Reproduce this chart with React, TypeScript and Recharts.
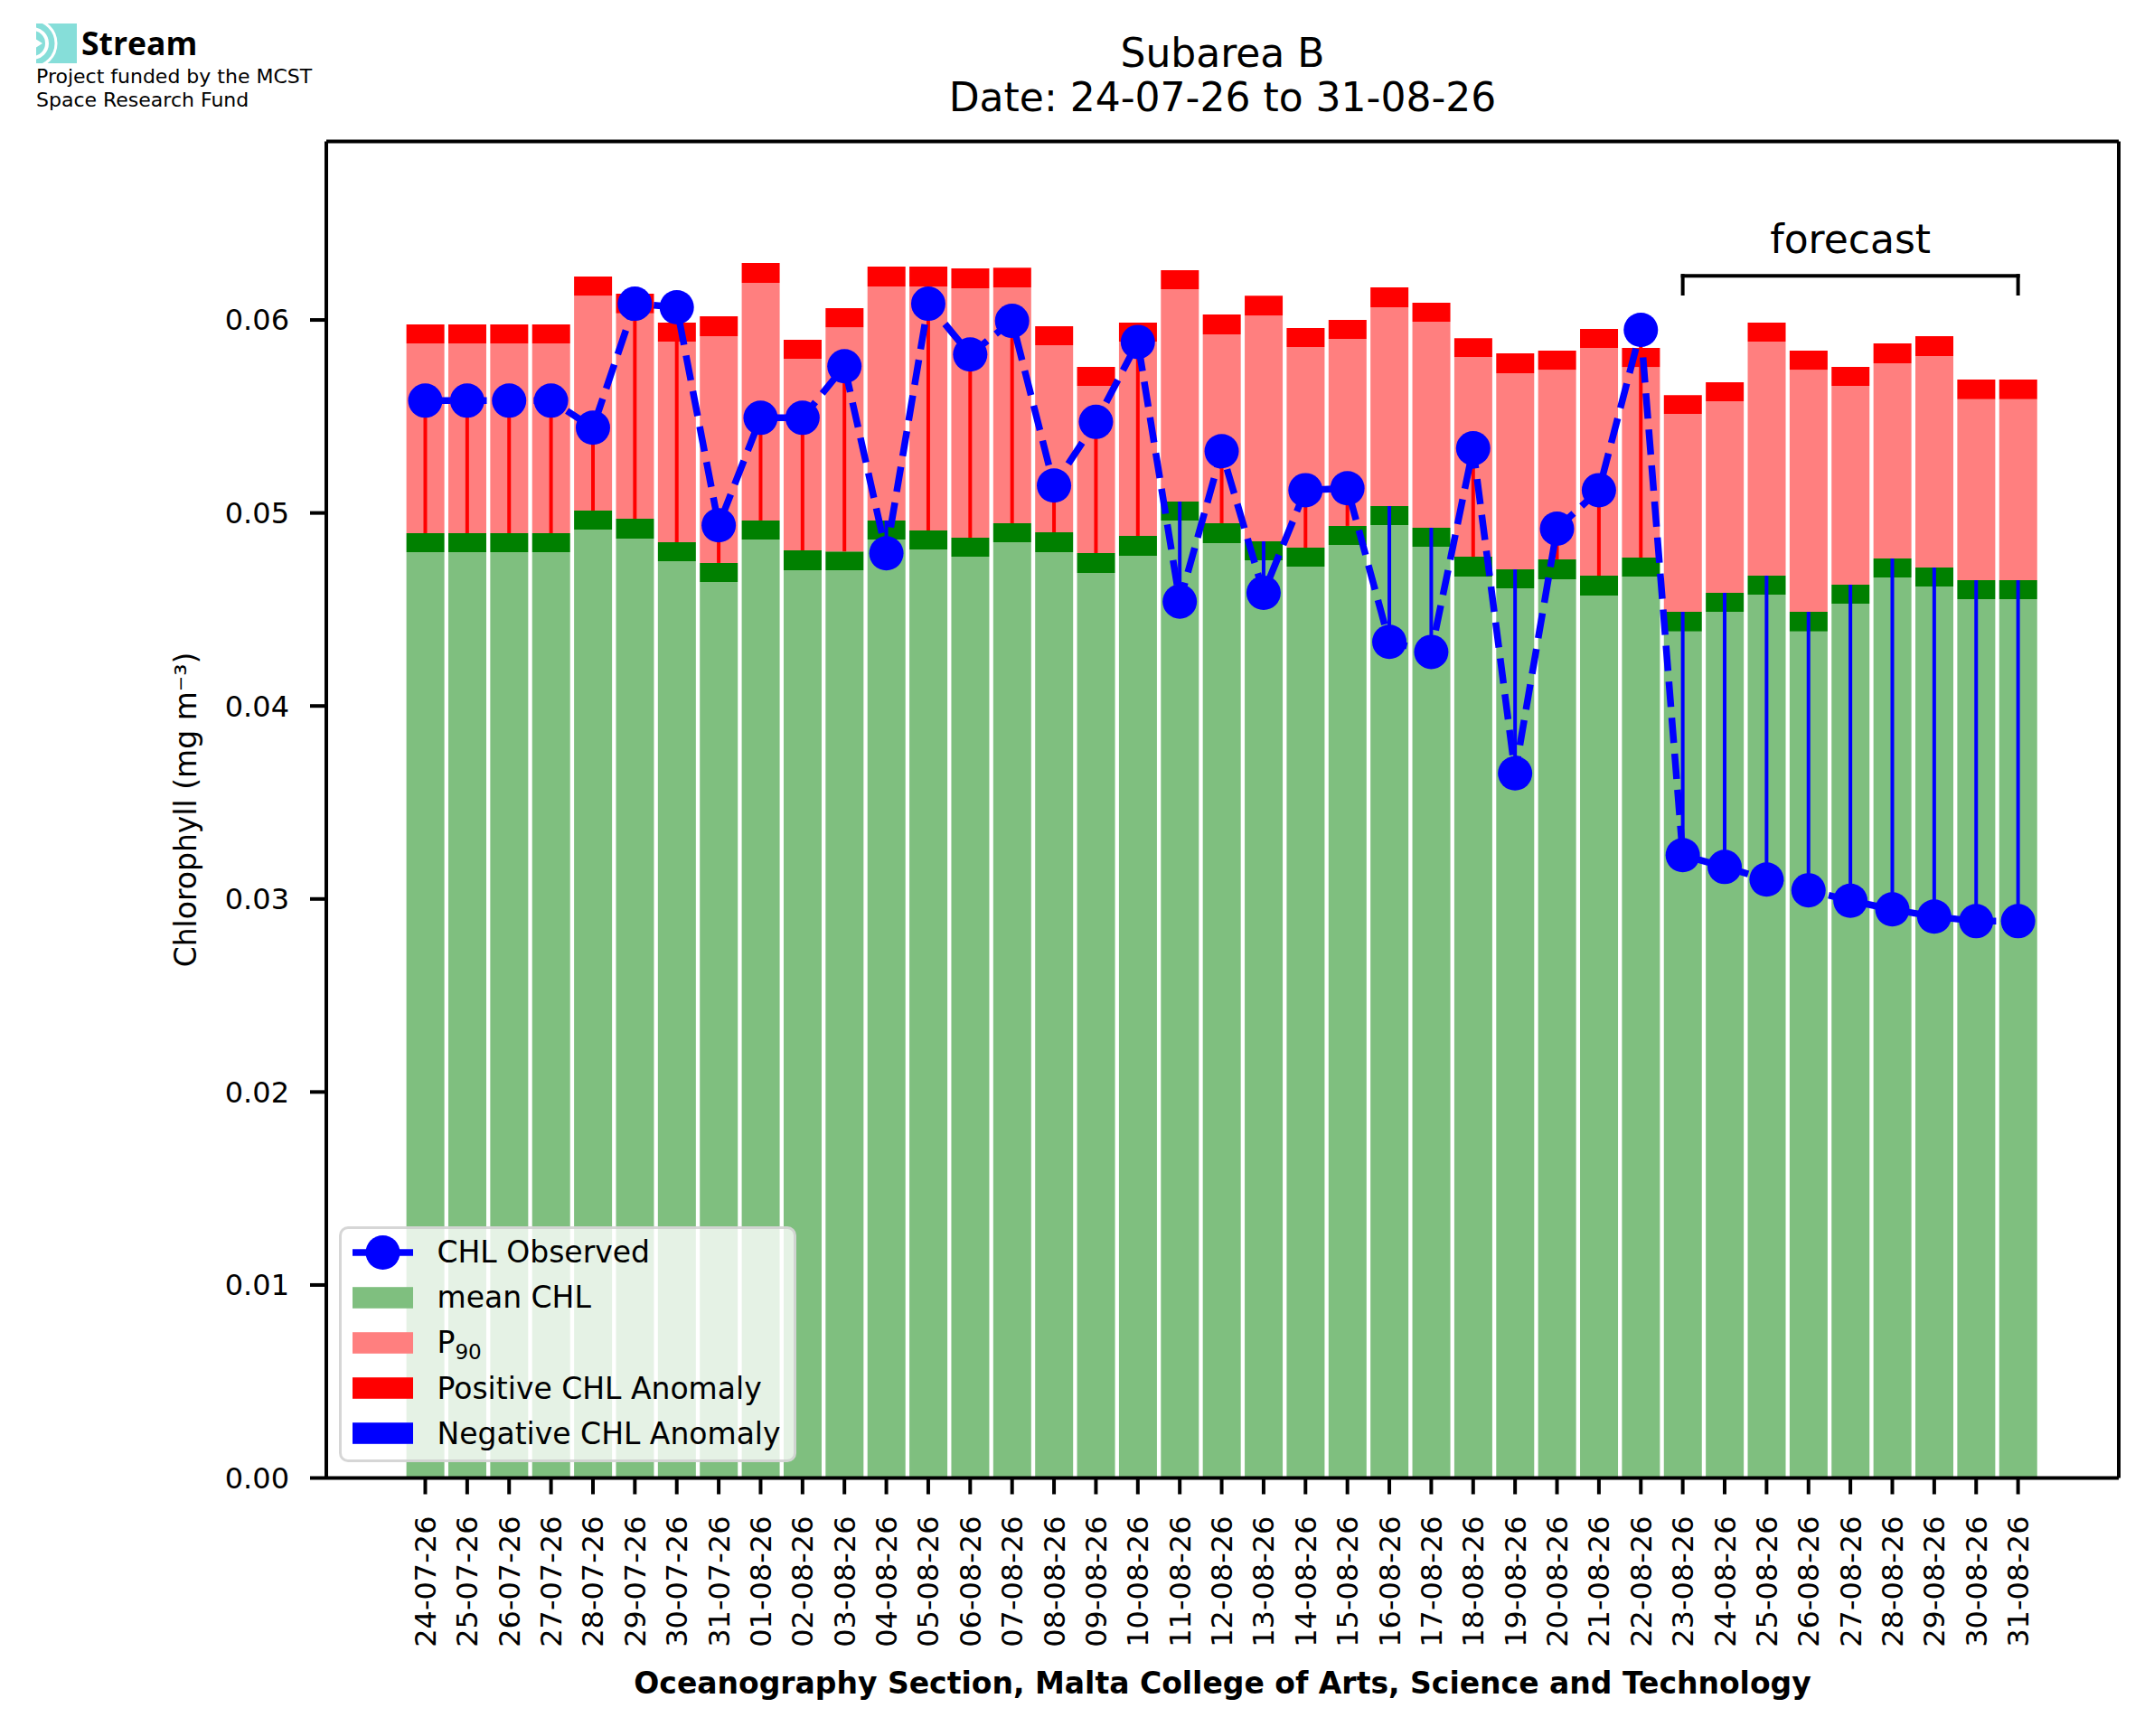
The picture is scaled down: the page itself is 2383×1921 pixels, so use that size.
import React from 'react';
import {
  ComposedChart,
  Bar,
  Line,
  XAxis,
  YAxis,
  ErrorBar,
  ReferenceLine,
  Legend,
  CartesianGrid,
} from 'recharts';

const FONT = '"DejaVu Sans", sans-serif';

// ---------- data ----------
const DATES = [
  '24-07-26', '25-07-26', '26-07-26', '27-07-26', '28-07-26', '29-07-26', '30-07-26', '31-07-26',
  '01-08-26', '02-08-26', '03-08-26', '04-08-26', '05-08-26', '06-08-26', '07-08-26', '08-08-26',
  '09-08-26', '10-08-26', '11-08-26', '12-08-26', '13-08-26', '14-08-26', '15-08-26', '16-08-26',
  '17-08-26', '18-08-26', '19-08-26', '20-08-26', '21-08-26', '22-08-26', '23-08-26', '24-08-26',
  '25-08-26', '26-08-26', '27-08-26', '28-08-26', '29-08-26', '30-08-26', '31-08-26',
];

// top of the light-green "mean CHL" bar
const MEAN_CHL = [
  0.04797, 0.04797, 0.04797, 0.04797, 0.04914, 0.04867, 0.0475, 0.04642,
  0.04862, 0.04703, 0.04703, 0.04862, 0.04811, 0.04773, 0.04848, 0.04797,
  0.04689, 0.04778, 0.04961, 0.04844, 0.04755, 0.04722, 0.04834, 0.04937,
  0.04825, 0.0467, 0.0461, 0.04656, 0.04572, 0.0467, 0.04386, 0.04488,
  0.04577, 0.04386, 0.0453, 0.04666, 0.04619, 0.04553, 0.04553,
];

// top of the dark-green mean marker band
const MEAN_TOP = [
  0.04895, 0.04895, 0.04895, 0.04895, 0.05012, 0.0497, 0.04848, 0.04741,
  0.04961, 0.04806, 0.04801, 0.04961, 0.04909, 0.04872, 0.04947, 0.049,
  0.04792, 0.04881, 0.05059, 0.04947, 0.04853, 0.0482, 0.04933, 0.05036,
  0.04923, 0.04773, 0.04708, 0.04759, 0.04675, 0.04769, 0.04488, 0.04586,
  0.04675, 0.04488, 0.04628, 0.04764, 0.04717, 0.04652, 0.04652,
];

// top of the light-red P90 bar
const P90 = [
  0.05878, 0.05878, 0.05878, 0.05878, 0.06126, 0.06034, 0.05888, 0.05916,
  0.06192, 0.05799, 0.05962, 0.06173, 0.06173, 0.06164, 0.06169, 0.05869,
  0.05658, 0.05888, 0.06159, 0.05925, 0.06023, 0.0586, 0.05902, 0.06066,
  0.05991, 0.05808, 0.05724, 0.05742, 0.05855, 0.05756, 0.05513, 0.05579,
  0.05888, 0.05742, 0.05658, 0.05775, 0.05813, 0.05589, 0.05589,
];

// top of the red P90 marker band
const P90_TOP = [
  0.05977, 0.05977, 0.05977, 0.05977, 0.06225, 0.06136, 0.05986, 0.06019,
  0.06295, 0.05897, 0.06061, 0.06276, 0.06276, 0.06267, 0.06271, 0.05967,
  0.05757, 0.05986, 0.06258, 0.06028, 0.06126, 0.05958, 0.06, 0.06169,
  0.06089, 0.05906, 0.05827, 0.05841, 0.05953, 0.05855, 0.05611, 0.05677,
  0.05986, 0.05841, 0.05757, 0.05878, 0.05916, 0.05691, 0.05691,
];

const CHL_OBS = [
  0.05582, 0.05582, 0.05582, 0.05582, 0.05442, 0.06084, 0.06066, 0.04936,
  0.05493, 0.05493, 0.0576, 0.04791, 0.06084, 0.05821, 0.05995, 0.05142,
  0.05472, 0.05886, 0.04541, 0.0532, 0.04586, 0.05118, 0.05128, 0.04332,
  0.0428, 0.05335, 0.03651, 0.04919, 0.05118, 0.05949, 0.03227, 0.03166,
  0.03101, 0.03045, 0.02991, 0.02946, 0.02909, 0.02885, 0.02885,
];

const Y_MAX = 0.06925;
const Y_TICKS = [0, 0.01, 0.02, 0.03, 0.04, 0.05, 0.06];

const FORECAST_START = '23-08-26';
const FORECAST_END = '31-08-26';
const BRACKET_Y = 0.06229;
const BRACKET_TIP = 0.06136;

const LEGEND_ITEMS = [
  { label: 'CHL Observed', sub: '', kind: 'line', color: '#0000ff' },
  { label: 'mean CHL', sub: '', kind: 'patch', color: '#7fbf7f' },
  { label: 'P', sub: '90', kind: 'patch', color: '#ff7f7f' },
  { label: 'Positive CHL Anomaly', sub: '', kind: 'patch', color: '#ff0000' },
  { label: 'Negative CHL Anomaly', sub: '', kind: 'patch', color: '#0000ff' },
];

const data = DATES.map((date, i) => {
  const obs = CHL_OBS[i];
  const top = MEAN_TOP[i];
  return {
    date,
    meanChl: MEAN_CHL[i],
    meanBand: MEAN_TOP[i] - MEAN_CHL[i],
    p90: P90[i] - MEAN_TOP[i],
    p90Band: P90_TOP[i] - P90[i],
    obs,
    posAnom: obs >= top ? [obs - top, 0] : [0, 0],
    negAnom: obs < top ? [0, top - obs] : [0, 0],
  };
});

// ---------- pieces ----------
const XTick = (props: any) => {
  const { x, y, payload } = props;
  return (
    <text
      x={x}
      y={y}
      transform={`rotate(-90, ${x}, ${y})`}
      textAnchor="end"
      dy="0.36em"
      fontSize={32}
      fontFamily={FONT}
      fill="#000"
    >
      {payload.value}
    </text>
  );
};

const YLabel = (props: any) => {
  const vb = props.viewBox || { x: 0, y: 0, width: 0, height: 0 };
  const x = vb.x + 217;
  const y = vb.y + vb.height / 2;
  return (
    <text
      x={x}
      y={y}
      transform={`rotate(-90, ${x}, ${y})`}
      textAnchor="middle"
      fontSize={33}
      fontFamily={FONT}
      fill="#000"
    >
      Chlorophyll (mg m⁻³)
    </text>
  );
};

const XLabel = (props: any) => {
  const vb = props.viewBox || { x: 0, y: 0, width: 0, height: 0 };
  return (
    <text
      x={vb.x + vb.width / 2}
      y={vb.y + 238.5}
      textAnchor="middle"
      fontSize={33}
      fontWeight="bold"
      fontFamily={FONT}
      fill="#000"
    >
      Oceanography Section, Malta College of Arts, Science and Technology
    </text>
  );
};

const LegendBox = () => (
  <div
    style={{
      boxSizing: 'border-box',
      width: 506,
      height: 261,
      border: '3.5px solid rgba(204,204,204,0.8)',
      borderRadius: 10,
      background: 'rgba(255,255,255,0.8)',
      padding: '0.5px 0 0 11.5px',
      fontFamily: FONT,
      fontSize: 33,
      color: '#000',
    }}
  >
    {LEGEND_ITEMS.map((it) => (
      <div key={it.label + it.sub} style={{ display: 'flex', alignItems: 'center', height: 50.2 }}>
        <svg width={67} height={40} style={{ display: 'block', flex: 'none' }}>
          {it.kind === 'line' ? (
            <g>
              <line x1={0} y1={20} x2={67} y2={20} stroke={it.color} strokeWidth={7.5} />
              <circle cx={33.5} cy={20} r={19} fill={it.color} />
            </g>
          ) : (
            <rect x={0} y={8.2} width={67} height={23.6} fill={it.color} />
          )}
        </svg>
        <span style={{ marginLeft: 27, lineHeight: 1, whiteSpace: 'nowrap' }}>
          {it.label}
          {it.sub ? (
            <span style={{ fontSize: '0.7em', position: 'relative', top: '0.3em' }}>{it.sub}</span>
          ) : null}
        </span>
      </div>
    ))}
  </div>
);

const Header = () => (
  <svg
    width={2383}
    height={1921}
    style={{ position: 'absolute', left: 0, top: 0, pointerEvents: 'none' }}
  >
    <defs>
      <clipPath id="logoClip">
        <rect x={40} y={26} width={45} height={44} />
      </clipPath>
    </defs>
    <rect x={40} y={26} width={45} height={44} fill="#86ded9" />
    <g clipPath="url(#logoClip)" fill="none" stroke="#ffffff">
      <circle cx={36} cy={48} r={16} strokeWidth={4} />
      <circle cx={36} cy={48} r={26} strokeWidth={3} />
    </g>
    <polygon points="40,43.5 47,48 40,52.5" fill="#ffffff" />
    <text x={90} y={61} fontFamily='"Open Sans", sans-serif' fontWeight="bold" fontSize={35.5} fill="#000">
      Stream
    </text>
    <text x={40} y={91.7} fontFamily={FONT} fontSize={22} fill="#000">
      Project funded by the MCST
    </text>
    <text x={40} y={118} fontFamily={FONT} fontSize={22} fill="#000">
      Space Research Fund
    </text>
    <text x={1352.5} y={74} textAnchor="middle" fontFamily={FONT} fontSize={44} fill="#000">
      Subarea B
    </text>
    <text x={1352.5} y={122.7} textAnchor="middle" fontFamily={FONT} fontSize={44} fill="#000">
      Date: 24-07-26 to 31-08-26
    </text>
  </svg>
);

// top and right spines of the axes box, taken from the chart's own plot offset
const topSpine = (p: any) => (p && p.offset ? [p.offset.top] : []);
const rightSpine = (p: any) => (p && p.offset ? [p.offset.left + p.offset.width] : []);

export default function App() {
  return (
    <div
      style={{
        position: 'absolute',
        left: 0,
        top: 0,
        width: 2383,
        height: 1921,
        background: '#ffffff',
        overflow: 'hidden',
      }}
    >
      <ComposedChart
        width={2383}
        height={1921}
        data={data}
        margin={{ top: 156.5, right: 39, bottom: 0, left: 0 }}
        barCategoryGap="5%"
      >
        <CartesianGrid
          horizontal
          vertical
          horizontalCoordinatesGenerator={topSpine}
          verticalCoordinatesGenerator={rightSpine}
          stroke="#000"
          strokeWidth={4}
          strokeDasharray=""
          fill="none"
        />
        <XAxis
          dataKey="date"
          type="category"
          interval={0}
          height={285.5}
          padding={{ left: 86.3, right: 88.2 }}
          tick={<XTick />}
          tickSize={18}
          tickMargin={24}
          axisLine={{ stroke: '#000', strokeWidth: 4 }}
          tickLine={{ stroke: '#000', strokeWidth: 4 }}
          label={<XLabel />}
        />
        <YAxis
          type="number"
          domain={[0, Y_MAX]}
          allowDataOverflow
          ticks={Y_TICKS}
          interval={0}
          width={361}
          tickFormatter={(v: number) => v.toFixed(2)}
          tick={{ fontSize: 32, fill: '#000', fontFamily: FONT }}
          tickSize={18}
          tickMargin={23}
          axisLine={{ stroke: '#000', strokeWidth: 4 }}
          tickLine={{ stroke: '#000', strokeWidth: 4 }}
          label={<YLabel />}
        />
        <Bar dataKey="meanChl" name="mean CHL" stackId="s" fill="#7fbf7f" isAnimationActive={false} />
        <Bar dataKey="meanBand" stackId="s" fill="#008000" legendType="none" isAnimationActive={false} />
        <Bar dataKey="p90" name="P90" stackId="s" fill="#ff7f7f" isAnimationActive={false} />
        <Bar dataKey="p90Band" stackId="s" fill="#ff0000" legendType="none" isAnimationActive={false} />
        <Line
          dataKey="obs"
          name="CHL Observed"
          type="linear"
          stroke="#0000ff"
          strokeWidth={7.5}
          strokeDasharray="28 12"
          dot={{ r: 19, fill: '#0000ff', stroke: 'none', strokeWidth: 0 }}
          activeDot={false}
          isAnimationActive={false}
        >
          <ErrorBar dataKey="posAnom" direction="y" width={0} stroke="#ff0000" strokeWidth={4} isAnimationActive={false} />
          <ErrorBar dataKey="negAnom" direction="y" width={0} stroke="#0000ff" strokeWidth={4} isAnimationActive={false} />
        </Line>
        <ReferenceLine
          segment={[
            { x: FORECAST_START, y: BRACKET_Y },
            { x: FORECAST_END, y: BRACKET_Y },
          ]}
          stroke="#000"
          strokeWidth={4}
          strokeLinecap="square"
          label={{ value: 'forecast', position: 'top', offset: 25, fontSize: 44, fill: '#000', fontFamily: FONT }}
        />
        <ReferenceLine
          segment={[
            { x: FORECAST_START, y: BRACKET_Y },
            { x: FORECAST_START, y: BRACKET_TIP },
          ]}
          stroke="#000"
          strokeWidth={4}
          strokeLinecap="square"
        />
        <ReferenceLine
          segment={[
            { x: FORECAST_END, y: BRACKET_Y },
            { x: FORECAST_END, y: BRACKET_TIP },
          ]}
          stroke="#000"
          strokeWidth={4}
          strokeLinecap="square"
        />
        <Legend
          layout="vertical"
          align="center"
          verticalAlign="middle"
          width={506}
          height={261}
          content={() => <LegendBox />}
          wrapperStyle={{ left: 375, top: 1357, right: 'auto', bottom: 'auto', width: 506, height: 261 }}
        />
      </ComposedChart>
      <Header />
    </div>
  );
}
